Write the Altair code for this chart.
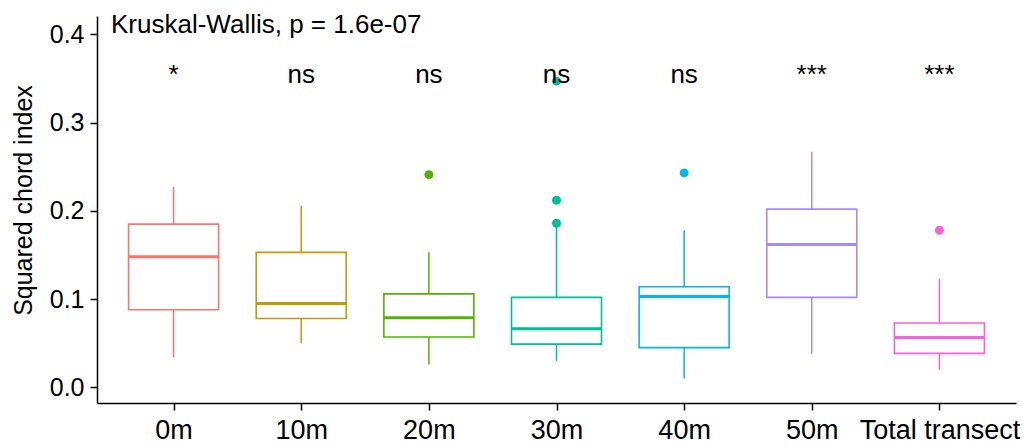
import altair as alt
import pandas as pd

categories = ["0m", "10m", "20m", "30m", "40m", "50m", "Total transect"]
colors = ["#F8766D", "#C49A00", "#53B400", "#00C094", "#00B6EB", "#A58AFF", "#FB61D7"]
lower = [0.034, 0.050, 0.026, 0.030, 0.010, 0.038, 0.020]
q1 = [0.088, 0.078, 0.057, 0.049, 0.045, 0.102, 0.0385]
median = [0.148, 0.095, 0.079, 0.0665, 0.103, 0.162, 0.0566]
q3 = [0.185, 0.153, 0.106, 0.102, 0.114, 0.202, 0.073]
upper = [0.227, 0.206, 0.153, 0.182, 0.178, 0.267, 0.123]
outlier_cat = ["20m", "30m", "30m", "30m", "40m", "Total transect"]
outlier_val = [0.241, 0.347, 0.212, 0.186, 0.243, 0.178]
sig_labels = ["*", "ns", "ns", "ns", "ns", "***", "***"]
sig_y = 0.345
kw_text = "Kruskal-Wallis, p = 1.6e-07"
kw_y = 0.402
y_ticks = [0.0, 0.1, 0.2, 0.3, 0.4]

FONT = "Liberation Sans"

box = pd.DataFrame({"cat": categories, "lower": lower, "q1": q1, "median": median,
                    "q3": q3, "upper": upper, "sig": sig_labels})
out = pd.DataFrame({"cat": outlier_cat, "val": outlier_val})

xs = alt.X("cat:N", sort=categories,
           scale=alt.Scale(type="point", domain=categories, padding=0.6),
           axis=alt.Axis(title=None, labelFontSize=27, labelFont=FONT, labelColor="black",
                         labelPadding=7, tickSize=7, tickWidth=1.5, tickColor="black",
                         domainColor="black", domainWidth=1.5, labelAngle=0, grid=False))
yscale = alt.Scale(domain=[-0.0177, 0.4208], nice=False, zero=False)
col = alt.Color("cat:N", scale=alt.Scale(domain=categories, range=colors), legend=None)

base = alt.Chart(box)

ylow = alt.Y("lower:Q", scale=yscale,
             axis=alt.Axis(title="Squared chord index", values=y_ticks, format=".1f",
                           labelFontSize=25, labelFont=FONT, labelColor="black",
                           labelPadding=6, tickSize=7, tickWidth=1.5, tickColor="black",
                           domainColor="black", domainWidth=1.5, grid=False,
                           titleFont=FONT, titleFontSize=25, titleFontWeight="normal",
                           titleColor="black", titleAngle=270, titleX=-66, titleY=184,
                           titleAlign="center", titleBaseline="alphabetic"))

w_lo = base.mark_rule(strokeWidth=1.5).encode(x=xs, y=ylow, y2="q1:Q", color=col)
w_hi = base.mark_rule(strokeWidth=1.5).encode(x=xs, y=alt.Y("q3:Q", scale=yscale), y2="upper:Q", color=col)
boxes = base.mark_bar(size=90, fill="white", strokeWidth=1.6).encode(
    x=xs, y=alt.Y("q1:Q", scale=yscale), y2="q3:Q", stroke=col)
med = base.mark_tick(size=90, thickness=3, opacity=1).encode(
    x=xs, y=alt.Y("median:Q", scale=yscale), color=col)
pts = alt.Chart(out).mark_circle(size=80, opacity=1).encode(
    x=xs, y=alt.Y("val:Q", scale=yscale), color=col)
sig = base.mark_text(font=FONT, fontSize=26, baseline="alphabetic", align="center", color="black").encode(
    x=xs, y=alt.Y("sy:Q", scale=yscale), text="sig:N").transform_calculate(sy=str(sig_y))
kw = alt.Chart(pd.DataFrame({"t": [kw_text], "y": [kw_y]})).mark_text(
    font=FONT, fontSize=26, baseline="alphabetic", align="left", color="black").encode(
    x=alt.value(14), y=alt.Y("y:Q", scale=yscale), text="t:N")

chart = alt.layer(w_lo, w_hi, boxes, med, pts, sig, kw).properties(
    width=919, height=387,
    autosize=alt.AutoSizeParams(type="none"),
    padding={"left": 89, "top": 8, "right": 8, "bottom": 40},
).configure_view(stroke=None)

chart.save("out.html", embed_options={"renderer": "svg", "actions": False})
